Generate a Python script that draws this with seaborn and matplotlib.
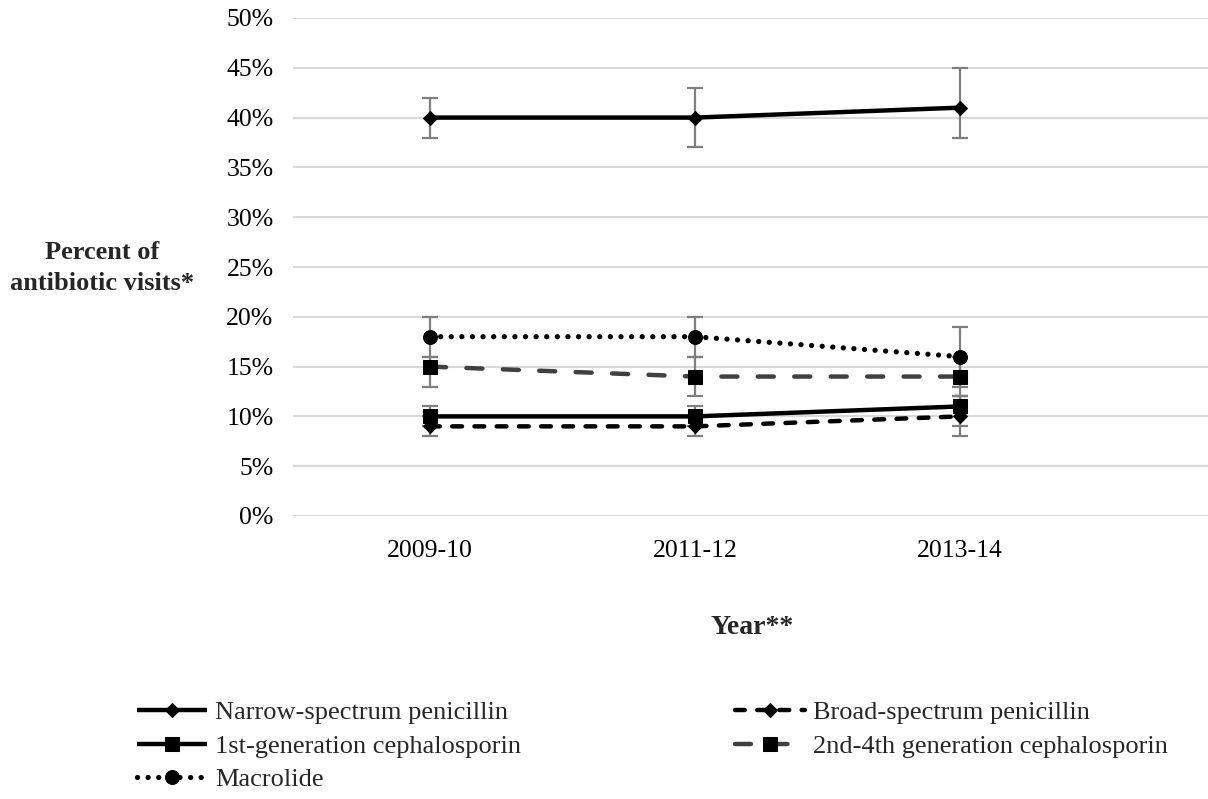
import numpy as np
import pandas as pd
import matplotlib
matplotlib.use("Agg")
import matplotlib.pyplot as plt
import seaborn as sns

# data (percent of antibiotic visits)
years = ["2009-10", "2011-12", "2013-14"]
classes = ["Narrow-spectrum penicillin", "Broad-spectrum penicillin",
           "1st-generation cephalosporin", "2nd-4th generation cephalosporin",
           "Macrolide"]
narrow = [0.40, 0.40, 0.41]
narrow_lo = [0.38, 0.37, 0.38]
narrow_hi = [0.42, 0.43, 0.45]
broad = [0.09, 0.09, 0.10]
broad_lo = [0.08, 0.08, 0.08]
broad_hi = [0.10, 0.10, 0.12]
ceph1 = [0.10, 0.10, 0.11]
ceph1_lo = [0.09, 0.09, 0.09]
ceph1_hi = [0.11, 0.11, 0.12]
ceph24 = [0.15, 0.14, 0.14]
ceph24_lo = [0.13, 0.12, 0.12]
ceph24_hi = [0.16, 0.16, 0.16]
macro = [0.18, 0.18, 0.16]
macro_lo = [0.16, 0.16, 0.13]
macro_hi = [0.20, 0.20, 0.19]

values = [narrow, broad, ceph1, ceph24, macro]
lows = [narrow_lo, broad_lo, ceph1_lo, ceph24_lo, macro_lo]
highs = [narrow_hi, broad_hi, ceph1_hi, ceph24_hi, macro_hi]

df = pd.DataFrame({
    "year": years * len(classes),
    "x": list(range(len(years))) * len(classes),
    "cls": np.repeat(classes, len(years)),
    "pct": np.concatenate(values),
    "lo": np.concatenate(lows),
    "hi": np.concatenate(highs),
})

# line styles per class
styles = {
    "Narrow-spectrum penicillin": dict(color="black", marker="D", ms=7, lw=3.2, dashes=None),
    "Broad-spectrum penicillin": dict(color="black", marker="D", ms=7, lw=3.2, dashes=(2.2, 2.8)),
    "1st-generation cephalosporin": dict(color="black", marker="s", ms=10, lw=3.2, dashes=None),
    "2nd-4th generation cephalosporin": dict(color="#404040", marker="s", ms=10, lw=3.2, dashes=(3.6, 4.6)),
    "Macrolide": dict(color="black", marker="o", ms=10, lw=3.8, dashes=(0.01, 2.0)),
}

sns.set_style("white")
plt.rcParams["font.family"] = ["Liberation Serif", "DejaVu Serif"]

fig = plt.figure(figsize=(12.08, 7.99), dpi=100)
ax = fig.add_axes([293 / 1208, 1 - 516 / 799, 1 - 293 / 1208, (516 - 18) / 799])

handles = {}
for cls in classes:
    sub = df[df["cls"] == cls]
    st = styles[cls]
    # error bars first, so the lines sit on top
    ax.errorbar(sub["x"], sub["pct"], yerr=[sub["pct"] - sub["lo"], sub["hi"] - sub["pct"]],
                fmt="none", ecolor="#7f7f7f", elinewidth=1.6, capsize=6, capthick=1.6, zorder=2)
    sns.lineplot(data=sub, x="x", y="pct", ax=ax, color=st["color"], marker=st["marker"],
                 markersize=st["ms"], markeredgecolor="black", markerfacecolor="black",
                 linewidth=st["lw"], label=cls, legend=False, zorder=3)
    line = ax.lines[-1]
    line.set_solid_capstyle("butt")
    if st["dashes"] is not None:
        line.set_dashes(st["dashes"])
        line.set_dash_capstyle("round")
    handles[cls] = line

ax.set_xlim((293 - 430) / 265, (1208 - 430) / 265)
ax.set_ylim(0, 0.5)
ax.set_yticks(np.arange(0, 0.51, 0.05))
ax.set_yticklabels([f"{int(round(v * 100))}%" for v in np.arange(0, 0.51, 0.05)])
ax.set_xticks(range(len(years)))
ax.set_xticklabels(years)
ax.tick_params(axis="both", length=0, labelsize=18.5, colors="black")
ax.tick_params(axis="y", pad=14)
ax.tick_params(axis="x", pad=17)
ax.grid(axis="y", color="#d9d9d9", linewidth=1.5)
ax.grid(axis="x", visible=False)
ax.set_axisbelow(True)
for s in ax.spines.values():
    s.set_visible(False)
ax.set_xlabel("")
ax.set_ylabel("")

fig.text(102 / 1208, 1 - 268 / 799, "Percent of\nantibiotic visits*", ha="center", va="center",
         fontsize=19, fontweight="bold", linespacing=1.45)
fig.text(752 / 1208, 1 - 628 / 799, "Year**", ha="center", va="center",
         fontsize=20, fontweight="bold")

left_items = ["Narrow-spectrum penicillin", "1st-generation cephalosporin", "Macrolide"]
right_items = ["Broad-spectrum penicillin", "2nd-4th generation cephalosporin"]
leg_kw = dict(frameon=False, fontsize=19, handlelength=2.65, handletextpad=0.3,
              labelspacing=0.38, numpoints=1, borderaxespad=0, borderpad=0)
leg1 = fig.legend([handles[c] for c in left_items], left_items, loc="upper left",
                  bbox_to_anchor=(137 / 1208, 1 - 701 / 799), **leg_kw)
leg2 = fig.legend([handles[c] for c in right_items], right_items, loc="upper left",
                  bbox_to_anchor=(735 / 1208, 1 - 701 / 799), **leg_kw)

fig.savefig("out.png", dpi=100)
